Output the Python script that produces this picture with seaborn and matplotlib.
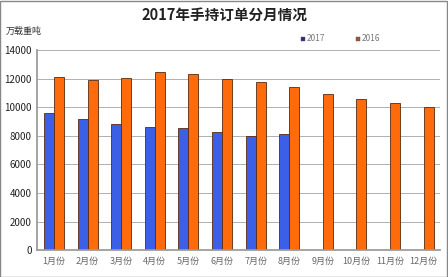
import matplotlib
matplotlib.use("Agg")
import matplotlib.pyplot as plt
import seaborn as sns
import pandas as pd
import numpy as np
from matplotlib.patches import Rectangle

months = ["1月份", "2月份", "3月份", "4月份", "5月份", "6月份", "7月份", "8月份", "9月份", "10月份", "11月份", "12月份"]
v2017 = [9600, 9200, 8850, 8650, 8550, 8250, 8000, 8100, np.nan, np.nan, np.nan, np.nan]
v2016 = [12150, 11900, 12050, 12450, 12300, 11950, 11750, 11450, 10950, 10600, 10300, 10000]
yticks = [0, 2000, 4000, 6000, 8000, 10000, 12000, 14000]

sns.set_theme(style="white")
plt.rcParams['font.family'] = ['Noto Sans CJK SC', 'DejaVu Sans']

df = pd.DataFrame({
    "month": months * 2,
    "value": v2017 + v2016,
    "year": ["2017"] * 12 + ["2016"] * 12,
})

fig = plt.figure(figsize=(4.48, 2.77), dpi=100)
ax = fig.add_axes([0.083, 0.097, 0.9, 0.722])
sns.barplot(data=df, x="month", y="value", hue="year", order=months,
            hue_order=["2017", "2016"], palette=["#3b5fe6", "#ff6a0a"],
            saturation=1, edgecolor="#5a2a10", linewidth=0.6, width=0.6, gap=0.0,
            ax=ax, legend=False)
ax.set_ylim(0, 14000)
ax.set_yticks(yticks)
ax.set_yticklabels([str(t) for t in yticks], fontsize=7, color="#222222")
ax.set_xticks(np.arange(-0.5, 12, 1), minor=True)
ax.tick_params(axis="x", which="major", labelsize=6.5, colors="#666666", length=0, pad=5)
ax.tick_params(axis="x", which="minor", length=3, color="#999999", direction="out")
ax.tick_params(axis="y", length=0, pad=4)
ax.yaxis.grid(True, color="#b0b0b0", linewidth=0.7)
ax.set_axisbelow(True)
for s in ["top", "right"]:
    ax.spines[s].set_visible(False)
ax.spines["left"].set_color("#999999")
ax.spines["bottom"].set_color("#999999")
ax.set_xlabel("")
ax.set_ylabel("")
ax.set_xlim(-0.5, 11.5)

fig.text(0.5, 0.945, "2017年手持订单分月情况", ha="center", va="center",
         fontsize=10.5, fontweight="bold", color="#222222")
fig.text(0.012, 0.885, "万载重吨", ha="left", va="center", fontsize=6.5, color="#333333")

for x, col, lab in [(0.672, "#2a3080", "2017"), (0.795, "#a0583a", "2016")]:
    fig.patches.append(Rectangle((x, 0.853), 0.009, 0.014, transform=fig.transFigure,
                                 facecolor=col, edgecolor="#555555", linewidth=0.3))
    fig.text(x + 0.012, 0.86, lab, ha="left", va="center", fontsize=6, color="#777777")

fig.patches.append(Rectangle((0.001, 0.001), 0.997, 0.997, transform=fig.transFigure,
                             fill=False, edgecolor="#888888", linewidth=1.0))
fig.savefig("out.png", dpi=100)
